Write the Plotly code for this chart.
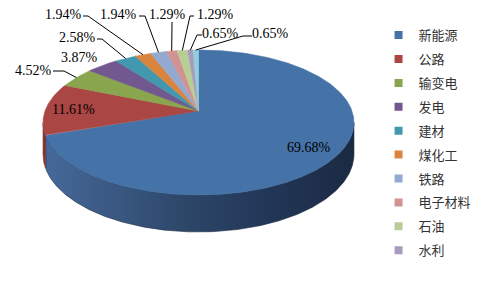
import math
import plotly.graph_objects as go

# ---- data ----
categories = ["新能源", "公路", "输变电", "发电", "建材", "煤化工", "铁路", "电子材料", "石油", "水利", ""]
values = [69.68, 11.61, 4.52, 3.87, 2.58, 1.94, 1.94, 1.29, 1.29, 0.65, 0.65]
colors = ["#4572A7", "#AA4643", "#89A54E", "#71588F", "#4198AF", "#DB843D",
          "#93A9CF", "#D19392", "#B9CD96", "#A99BBD", "#92CDDC"]
wall_colors = {0: [[0, "#46699a"], [0.45, "#2d4769"], [0.75, "#213556"], [1, "#1b2a42"]],
               1: [[0, "#8f3835"], [1, "#7a2e2c"]]}

# ---- geometry (layout) ----
CX, CY = 198.5, 111.0      # apex of pie on screen
A, B = 70.7, 153.5         # vertical / horizontal radii
K = 0.1586                 # perspective factor
D = 31.1                   # wall depth
INSIDE_R = 0.82            # radius for inside labels

# outside label layout: (text x, text y, leader start x, leader start y, elbow x)
label_layout = {
    2: (33, 70, 53, 71, 64),
    3: (79, 57, None, None, None),
    4: (77, 37, 97, 39, 102),
    5: (63, 14, 83, 16, 88),
    6: (118, 14, 139, 16, 145),
    7: (167, 14, 172, 22, 172),
    8: (215, 14, 194, 16, 190),
    9: (220, 33, 202, 35, 197),
    10: (270, 33, 252, 36, 243),
}

LABEL_FONT = "Times New Roman, Liberation Serif, serif"


def proj(theta_deg, r=1.0, drop=0.0):
    t = math.radians(theta_deg)
    u = r * math.sin(t)
    v = -r * math.cos(t)
    s = 1.0 / (1.0 - K * v)
    return CX + B * u * s, CY + A * v * s + drop * s


total = sum(values)
bounds = [0.0]
for val in values:
    bounds.append(bounds[-1] + val / total * 360.0)


def arc(a0, a1, drop=0.0, step=0.5):
    n = max(2, int(abs(a1 - a0) / step) + 1)
    return [proj(a0 + (a1 - a0) * i / (n - 1), 1.0, drop) for i in range(n)]


fig = go.Figure()

# side walls (front part only)
vis0 = 90 + math.degrees(math.asin(K))
vis1 = 270 - math.degrees(math.asin(K))
for i, val in enumerate(values):
    a0, a1 = max(bounds[i], vis0), min(bounds[i + 1], vis1)
    if a1 <= a0:
        continue
    top = arc(a0, a1)
    bot = arc(a0, a1, drop=D)[::-1]
    pts = top + bot + [top[0]]
    xs = [p[0] for p in pts]
    ys = [p[1] for p in pts]
    cs = wall_colors.get(i, [[0, colors[i]], [1, colors[i]]])
    fig.add_trace(go.Scatter(
        x=xs, y=ys, mode="lines", fill="toself",
        line=dict(width=0.6, color=cs[-1][1]),
        fillgradient=dict(type="horizontal", colorscale=cs,
                          start=min(xs), stop=max(xs)),
        hoverinfo="skip", showlegend=False))

# top faces
for i, val in enumerate(values):
    pts = [(CX, CY)] + arc(bounds[i], bounds[i + 1]) + [(CX, CY)]
    fig.add_trace(go.Scatter(
        x=[p[0] for p in pts], y=[p[1] for p in pts], mode="lines",
        fill="toself", fillcolor=colors[i],
        line=dict(width=0.6, color=colors[i]),
        hoverinfo="skip", showlegend=False))

# labels
annotations = []
for i, val in enumerate(values):
    mid = (bounds[i] + bounds[i + 1]) / 2
    txt = f"{val:.2f}%"
    if i in label_layout:
        tx, ty, sx, sy, ex = label_layout[i]
        if sx is not None:
            ax_, ay_ = proj(mid, 1.0)
            fig.add_trace(go.Scatter(
                x=[sx, ex, ax_], y=[sy, sy, ay_], mode="lines",
                line=dict(color="#000000", width=1),
                hoverinfo="skip", showlegend=False))
    else:
        tx, ty = proj(mid, INSIDE_R)
    annotations.append(dict(
        x=tx, y=ty, xref="x", yref="y", text=txt, showarrow=False,
        xanchor="center", yanchor="middle",
        font=dict(family=LABEL_FONT, size=14, color="#000000")))

# legend entries
for i, name in enumerate(categories):
    if not name:
        continue
    fig.add_trace(go.Scatter(
        x=[None], y=[None], mode="markers", name=name, legendgroup=f"g{i}",
        marker=dict(symbol="square", size=8, color=colors[i])))

fig.update_layout(
    width=481, height=288,
    margin=dict(l=0, r=0, t=0, b=0),
    paper_bgcolor="white", plot_bgcolor="white",
    xaxis=dict(range=[0, 481], visible=False, fixedrange=True),
    yaxis=dict(range=[288, 0], visible=False, fixedrange=True),
    annotations=annotations,
    legend=dict(x=0.787, y=0.93, xanchor="left", yanchor="top",
                bgcolor="rgba(0,0,0,0)", tracegroupgap=4,
                font=dict(family="Noto Sans CJK SC", size=13, color="#333333")),
    showlegend=True,
)

fig.write_html("out.html")
